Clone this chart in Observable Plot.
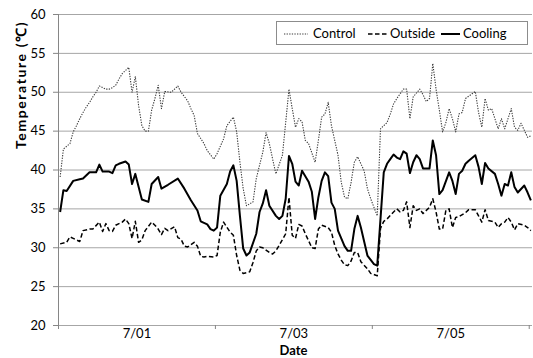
<!DOCTYPE html>
<html>
<head>
<meta charset="utf-8">
<script src="https://cdn.jsdelivr.net/npm/d3@7"></script>
<script src="https://cdn.jsdelivr.net/npm/@observablehq/plot@0.6"></script>
<style>
  html, body { margin: 0; padding: 0; background: #fff; }
  #chart { position: relative; width: 533px; height: 358px; font-family: Lato, "Open Sans", sans-serif; }
  #legend { position: absolute; left: 276px; top: 21px; width: 250px; height: 22px;
            border: 1px solid #8c8c8c; background: #fff; font-size: 13px; color: #000; }
  #legend .item { position: absolute; top: 0; height: 22px; line-height: 22px; }
  #legend svg { position: absolute; top: 10px; }
</style>
</head>
<body>
<div id="chart"></div>
<script>
// ---- data (hour index from start of 6/30, temperature in ℃) ----
const controlHour = [0,1,3,4,5,6,7,8,9,10,11,12,13,14,15,16,17,18,19,20,21,22,23,24,25,26,27,28,29,30,31,32,34,36,37,39,40,41,42,44,45,47,48,50,51,53,54,55,56,57,59,60,62,63,64,65,66,68,69,70,71,72,73,74,75,76,78,79,80,81,82,83,85,86,87,88,89,90,91,93,94,95,97,98,100,101,102,103,104,105,106,107,108,110,111,112,113,114,115,116,117,118,119,120,121,122,123,124,126,127,128,129,130,131,132,133,134,135,136,137,138,139,140,141,142,143,144];
const controlTemp = [39.1,42.7,43.4,44.9,45.7,46.6,47.4,48.1,48.7,49.4,50.0,50.8,50.6,50.4,50.4,50.6,50.9,51.7,52.4,52.8,53.2,50.0,52.0,48.3,45.7,45.0,45.0,47.7,49.2,50.9,47.9,50.1,50.0,50.8,50.0,48.9,47.9,47.0,44.7,43.4,42.5,41.4,42.1,44.0,45.7,46.8,44.9,41.0,37.6,35.4,35.9,38.9,42.3,44.8,43.4,41.4,39.5,41.9,46.1,50.4,47.9,45.5,46.6,46.2,43.8,43.4,41.0,43.8,46.8,47.2,48.7,45.7,41.9,38.4,36.5,36.3,38.4,41.0,41.7,39.9,37.6,36.3,34.1,45.3,46.1,47.2,48.5,49.2,49.8,50.4,50.4,46.6,49.4,50.4,49.7,48.8,49.2,53.7,50.4,47.7,44.9,46.1,47.9,46.6,44.9,47.2,47.4,49.2,49.8,50.1,47.4,45.5,49.2,47.7,47.9,46.6,45.3,46.6,45.3,46.6,47.9,45.5,45.1,46.0,45.1,44.2,44.4];

const outsideHour = [0,2,3,4,6,7,9,10,12,13,14,15,16,17,19,20,21,22,23,24,25,26,28,29,30,31,32,33,35,36,37,38,39,41,42,43,44,45,47,48,49,50,52,53,54,55,56,58,59,60,61,62,64,65,66,67,69,70,71,72,73,74,75,77,78,79,80,82,83,84,85,86,87,88,89,90,91,92,94,95,97,98,99,100,102,103,104,105,106,107,108,109,110,111,113,114,115,116,117,118,119,120,121,122,124,125,127,128,129,130,131,133,134,135,136,137,138,139,140,142,143,144];
const outsideTemp = [30.5,30.7,31.4,31.2,30.8,32.2,32.4,32.4,33.3,32.1,33.1,32.2,32.1,32.9,33.3,33.7,33.1,31.2,33.4,30.7,31.0,32.2,33.3,32.9,32.4,31.7,32.5,32.2,32.7,31.3,31.1,30.2,30.1,30.7,30.2,28.9,28.8,28.9,28.8,29.0,32.0,33.3,32.0,31.6,29.0,27.1,26.7,26.9,28.1,29.6,30.1,30.0,29.4,29.2,29.6,30.3,31.8,36.5,31.6,31.2,33.0,32.8,31.8,30.0,29.9,32.4,32.9,32.6,32.0,30.3,29.2,28.4,27.8,27.7,28.3,29.4,29.4,28.2,27.3,26.7,26.4,32.5,33.4,33.7,34.6,35.0,34.6,34.8,35.9,32.6,35.4,34.8,35.0,34.4,35.2,36.3,34.6,32.4,32.4,34.8,35.0,32.6,33.9,34.0,34.5,34.9,34.9,34.1,33.3,34.9,33.5,33.3,32.6,33.1,33.3,33.9,33.3,32.3,33.1,32.9,32.6,32.2];

const coolingHour = [0,1,2,4,6,7,9,11,12,13,15,16,17,18,20,21,22,23,25,27,28,30,31,33,36,38,40,42,43,45,46,47,48,49,51,52,53,54,55,56,57,58,60,61,62,63,64,66,67,68,69,70,71,72,73,74,76,77,78,79,80,81,82,83,84,85,87,88,89,90,91,92,93,94,96,97,99,100,101,102,103,104,105,106,107,108,109,110,111,113,114,115,116,117,119,120,121,122,123,124,125,127,128,129,130,131,133,134,135,136,137,138,139,140,142,143,144];
const coolingTemp = [34.6,37.4,37.3,38.6,38.8,38.9,39.7,39.7,40.7,39.8,39.8,39.6,40.6,40.8,41.1,40.7,38.2,39.5,36.2,35.9,38.2,39.1,37.6,38.1,38.9,37.6,36.1,34.8,33.4,33.0,32.4,32.2,32.6,36.7,38.2,39.8,40.6,38.6,34.1,29.9,29.0,29.4,31.8,34.6,35.7,37.4,35.4,34.1,33.7,34.1,36.3,41.8,40.8,38.5,38.0,39.9,38.5,37.2,33.7,36.5,38.6,39.7,39.2,35.8,35.0,32.2,30.2,29.6,29.6,32.4,34.1,32.6,30.8,29.0,27.9,27.7,39.7,40.8,41.4,42.0,41.6,41.4,42.4,42.1,39.6,41.0,41.9,41.4,40.2,40.2,43.8,41.9,36.9,37.4,39.7,38.6,36.9,39.5,39.9,40.8,41.2,41.9,40.4,38.2,40.9,40.2,39.5,38.2,36.7,38.2,38.0,39.7,37.8,37.1,38.0,37.1,36.1];

const seriesNames = ["Control", "Outside", "Cooling"];
const yTicks = [20, 25, 30, 35, 40, 45, 50, 55, 60];
const dateLabels = ["7/01", "7/03", "7/05"];
const dateLabelHours = [23.5, 71.5, 119.5];
const dateTickHours = [-0.5, 47.5, 95.5, 143.5];
const xTitle = "Date";
const yTitle = "Temperature (℃)";

// ---- styles ----
const styles = {
  Control: {stroke: "#3a3a3a", strokeWidth: 1.1, strokeDasharray: "1.3,1.3"},
  Outside: {stroke: "#000", strokeWidth: 1.5, strokeDasharray: "4.5,2.5"},
  Cooling: {stroke: "#000", strokeWidth: 2, strokeDasharray: null}
};

const toRows = (hours, temps) => hours.map((h, i) => ({h, t: temps[i]}));
const data = {
  Control: toRows(controlHour, controlTemp),
  Outside: toRows(outsideHour, outsideTemp),
  Cooling: toRows(coolingHour, coolingTemp)
};

const xDomain = [-0.5, 144.5];

const plot = Plot.plot({
  width: 533,
  height: 358,
  marginLeft: 58,
  marginRight: 1,
  marginTop: 14,
  marginBottom: 33,
  style: {fontFamily: "Lato, 'Open Sans', sans-serif", fontSize: "13px", color: "#000", background: "#fff"},
  x: {domain: xDomain, axis: null},
  y: {domain: [20, 60], axis: null},
  marks: [
    Plot.ruleY(yTicks, {stroke: "#a6a6a6", strokeWidth: 1}),
    Plot.ruleX([xDomain[0]], {stroke: "#868686", strokeWidth: 1}),
    Plot.axisY({ticks: yTicks, tickSize: 5, tickPadding: 8, stroke: "#868686", fontSize: 13, label: null}),
    Plot.axisX({ticks: dateTickHours, tickSize: 4, tickFormat: () => "", stroke: "#868686", label: null}),
    Plot.axisX({ticks: dateLabelHours, tickSize: 0, tickPadding: 3, tickFormat: (d, i) => dateLabels[i], fontSize: 13, label: null}),
    ...seriesNames.map(name => Plot.line(data[name], {x: "h", y: "t", ...styles[name], strokeLinejoin: "round", strokeLinecap: "butt"})),
    Plot.text([xTitle], {frameAnchor: "bottom", dy: 25.5, fontWeight: "bold", fontSize: 13, lineAnchor: "middle", dx: -2}),
    Plot.text([yTitle], {frameAnchor: "left", rotate: -90, dx: -37, dy: -21, fontWeight: "bold", fontSize: 14, lineAnchor: "middle", className: "ytitle"})
  ]
});

const chart = document.getElementById("chart");
chart.appendChild(plot);
d3.select(plot).selectAll(".ytitle text").style("letter-spacing", "1.6px");

// ---- legend ----
const legend = document.createElement("div");
legend.id = "legend";
const legendLayout = {Control: [7, 24, 36], Outside: [91, 21, 113], Cooling: [164, 19, 186]};
for (const name of seriesNames) {
  const [sx, sw, tx] = legendLayout[name];
  const s = styles[name];
  const sw_ = document.createElementNS("http://www.w3.org/2000/svg", "svg");
  sw_.setAttribute("width", sw);
  sw_.setAttribute("height", 4);
  sw_.style.left = sx + "px";
  const ln = document.createElementNS("http://www.w3.org/2000/svg", "line");
  ln.setAttribute("x1", 0); ln.setAttribute("x2", sw);
  ln.setAttribute("y1", 2); ln.setAttribute("y2", 2);
  ln.setAttribute("stroke", s.stroke);
  ln.setAttribute("stroke-width", s.strokeWidth);
  if (s.strokeDasharray) ln.setAttribute("stroke-dasharray", s.strokeDasharray);
  sw_.appendChild(ln);
  legend.appendChild(sw_);
  const t = document.createElement("span");
  t.className = "item";
  t.style.left = tx + "px";
  t.textContent = name;
  legend.appendChild(t);
}
chart.appendChild(legend);
</script>
</body>
</html>
